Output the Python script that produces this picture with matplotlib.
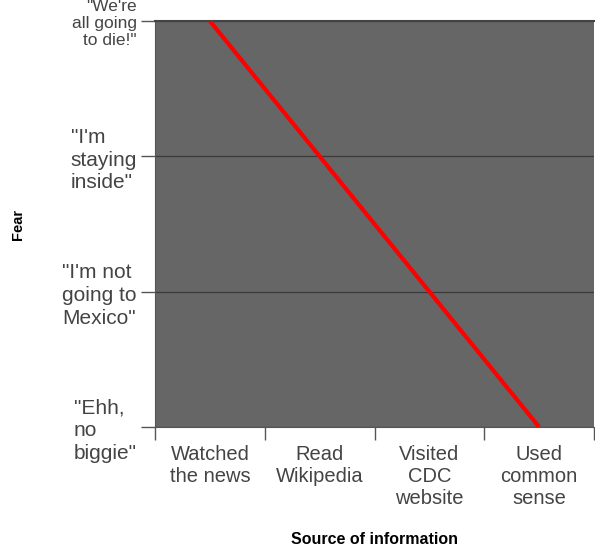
import matplotlib.pyplot as plt
from matplotlib.ticker import FixedLocator

plt.rcParams['font.family'] = ['Liberation Sans', 'DejaVu Sans']

sources = ['Watched\nthe news', 'Read\nWikipedia', 'Visited\nCDC\nwebsite', 'Used\ncommon\nsense']
fear_levels = ['"Ehh,\nno\nbiggie"', '"I\'m not\ngoing to\nMexico"', '"I\'m\nstaying\ninside"', '"We\'re\nall going\nto die!"']
fear = [3, 2, 1, 0]

fig = plt.figure(figsize=(5.95, 5.48), dpi=100)
ax = fig.add_axes([155 / 595, 1 - 427 / 548, 439 / 595, 406 / 548])
ax.set_facecolor('#666666')

x = list(range(len(sources)))
ax.plot(x, fear, color='#ff0000', linewidth=3, solid_capstyle='butt', zorder=3)

ax.set_xlim(-0.5, len(sources) - 0.5)
ax.set_ylim(0, len(fear_levels) - 1)

# category labels sit between boundary ticks
ax.set_xticks(x)
ax.set_xticklabels(sources, fontsize=14.5, color='#444444', linespacing=1.2)
ax.tick_params(axis='x', which='major', length=0, pad=13)
ax.xaxis.set_minor_locator(FixedLocator([i - 0.5 for i in range(len(sources) + 1)]))
ax.tick_params(axis='x', which='minor', length=9, width=1, color='#555555')

ax.set_yticks(range(len(fear_levels)))
ylabels = ax.set_yticklabels(fear_levels, fontsize=15, color='#444444', linespacing=1.25)
for lab in ylabels:
    lab.set_multialignment('left')
ylabels[-1].set_fontsize(12.5)
ylabels[-1].set_multialignment('right')
ylabels[-1].set_linespacing(1.15)
ax.tick_params(axis='y', length=10, width=1, color='#555555', pad=3)

ax.grid(axis='y', color='#3a3a3a', linewidth=0.9)
ax.set_axisbelow(True)

for side in ['left', 'bottom']:
    ax.spines[side].set_color('#555555')
ax.spines['top'].set_color('#444444')
ax.spines['top'].set_linewidth(1.5)
ax.spines['right'].set_visible(False)

ax.set_xlabel('Source of information', fontsize=11.5, fontweight='bold', labelpad=17)
ax.yaxis.set_label_coords(-130 / 439, 0.49)
ax.set_ylabel('Fear', fontsize=10.5, fontweight='bold')

fig.savefig('out.png', dpi=100)
